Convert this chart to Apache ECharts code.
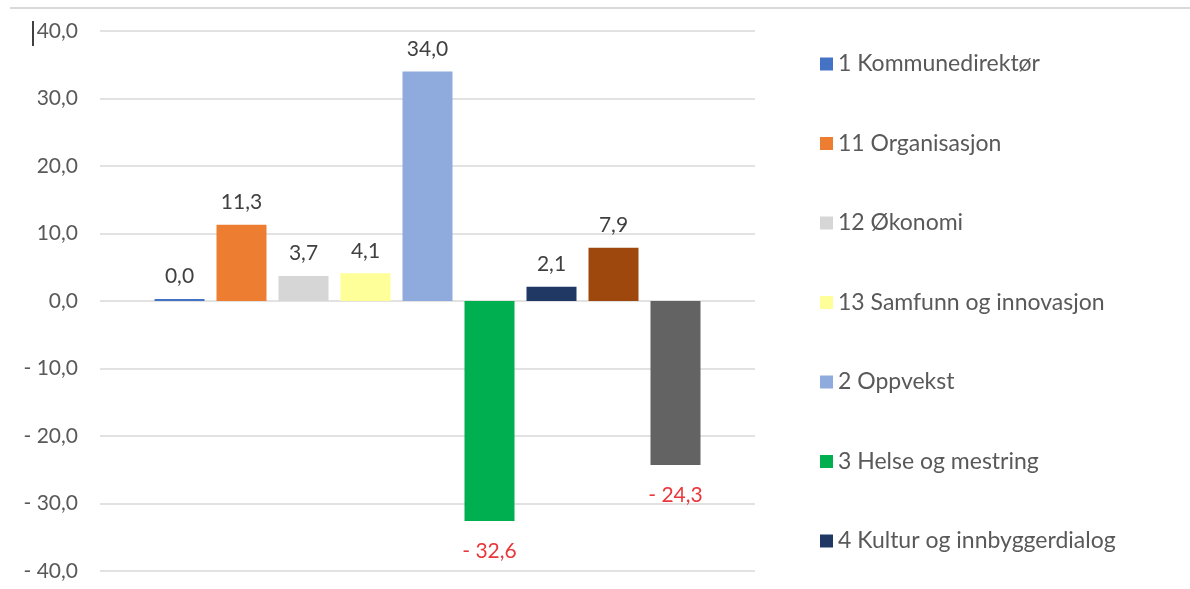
<!DOCTYPE html>
<html>
<head>
<meta charset="utf-8">
<script src="https://cdn.jsdelivr.net/npm/echarts@6/dist/echarts.min.js"></script>
<style>
html,body{margin:0;padding:0;background:#fff;}
#chart{width:1190px;height:589px;}
</style>
</head>
<body>
<div id="chart"></div>
<script>
var seriesNames = ['1 Kommunedirektør','11 Organisasjon','12 Økonomi','13 Samfunn og innovasjon','2 Oppvekst','3 Helse og mestring','4 Kultur og innbyggerdialog','Serie 8','Serie 9'];
var legendNames = ['1 Kommunedirektør','11 Organisasjon','12 Økonomi','13 Samfunn og innovasjon','2 Oppvekst','3 Helse og mestring','4 Kultur og innbyggerdialog'];
var seriesValues = [0.0, 11.3, 3.7, 4.1, 34.0, -32.6, 2.1, 7.9, -24.3];
var yTicks = [-40, -30, -20, -10, 0, 10, 20, 30, 40];

var palette = ['#4472C4','#ED7D31','#D6D6D6','#FFFF99','#8FAADC','#00B050','#203864','#9E480E','#636363'];

function fmt(v){
  var s = Math.abs(v).toFixed(1).replace('.', ',');
  return v < 0 ? '- ' + s : s;
}

var font = 'Lato, "Noto Sans", sans-serif';

var series = seriesNames.map(function(n, i){
  var v = seriesValues[i];
  var neg = v < 0;
  return {
    name: n,
    type: 'bar',
    data: [v],
    barWidth: 50,
    barGap: '24%',
    barMinHeight: 2,
    itemStyle: {color: palette[i]},
    label: {
      show: true,
      position: neg ? 'bottom' : 'top',
      distance: neg ? 20 : 12,
      formatter: function(p){ return fmt(p.value); },
      color: neg ? '#E8383D' : '#404040',
      fontSize: 21,
      fontFamily: font
    }
  };
});

var chart = echarts.init(document.getElementById('chart'));
chart.setOption({
  animation: false,
  backgroundColor: '#fff',
  grid: {left: 100, right: 435, top: 31, bottom: 18, containLabel: false},
  xAxis: {
    type: 'category',
    data: [''],
    axisLine: {show: false},
    axisTick: {show: false},
    axisLabel: {show: false}
  },
  yAxis: {
    type: 'value',
    min: yTicks[0],
    max: yTicks[yTicks.length - 1],
    interval: 10,
    axisLine: {show: false},
    axisTick: {show: false},
    splitLine: {lineStyle: {color: '#D9D9D9', width: 1.5}},
    axisLabel: {
      margin: 22,
      color: '#595959',
      fontSize: 21,
      fontFamily: font,
      formatter: function(v){ return fmt(v); }
    }
  },
  legend: {
    orient: 'vertical',
    left: 815,
    top: 46,
    data: legendNames,
    icon: 'rect',
    itemWidth: 13,
    itemHeight: 13,
    itemGap: 53.5,
    selectedMode: false,
    textStyle: {color: '#595959', fontSize: 23, fontFamily: font, lineHeight: 26}
  },
  graphic: [
    {type: 'line', shape: {x1: 10, y1: 8, x2: 1190, y2: 8}, style: {stroke: '#D9D9D9', lineWidth: 2}},
    {type: 'line', shape: {x1: 33, y1: 21, x2: 33, y2: 46}, style: {stroke: '#404040', lineWidth: 2}}
  ],
  series: series
});
</script>
</body>
</html>
